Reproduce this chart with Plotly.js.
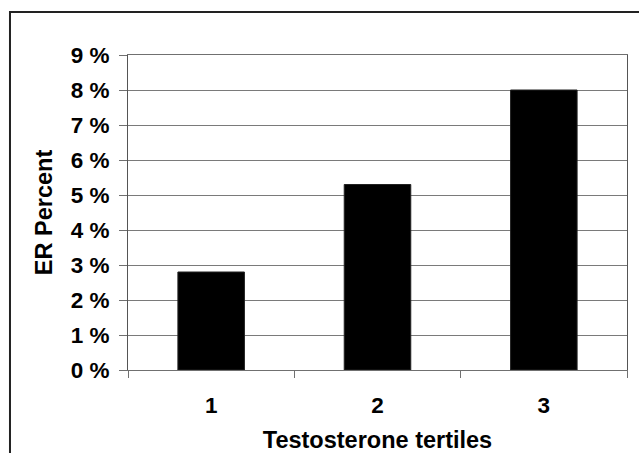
<!DOCTYPE html>
<html>
<head>
<meta charset="utf-8">
<script src="https://cdn.plot.ly/plotly-3.0.1.min.js"></script>
<style>html,body{margin:0;padding:0;background:#fff;}#chart{width:639px;height:453px;}</style>
</head>
<body>
<div id="chart"></div>
<script>
const categories = ['1', '2', '3'];
const erPercent = [2.8, 5.3, 8.0];
const yTickValues = [0, 1, 2, 3, 4, 5, 6, 7, 8, 9];
const yTickLabels = ['0 %', '1 %', '2 %', '3 %', '4 %', '5 %', '6 %', '7 %', '8 %', '9 %'];
const xTitle = 'Testosterone tertiles';
const yTitle = 'ER Percent';

const fontFamily = 'Liberation Sans, Arial, Helvetica, sans-serif';

const trace = {
  type: 'bar',
  x: categories,
  y: erPercent,
  width: 0.4,
  marker: {color: '#000000', line: {color: '#222222', width: 1}},
  hoverinfo: 'skip'
};

const layout = {
  width: 639,
  height: 453,
  margin: {l: 128, r: 12, t: 55, b: 83, pad: 0},
  paper_bgcolor: '#ffffff',
  plot_bgcolor: '#ffffff',
  showlegend: false,
  bargap: 0.6,
  xaxis: {
    type: 'category',
    categoryorder: 'array',
    categoryarray: categories,
    tickson: 'boundaries',
    ticks: 'outside',
    ticklen: 7,
    tickwidth: 1,
    tickcolor: '#707070',
    showgrid: false,
    showline: true,
    linecolor: '#707070',
    linewidth: 1,
    mirror: true,
    zeroline: false,
    ticklabelstandoff: 15,
    tickfont: {family: fontFamily, size: 22.5, color: '#000', weight: 'bold'},
    title: {text: xTitle, font: {family: fontFamily, size: 23.5, color: '#000', weight: 'bold'}, standoff: 21},
    fixedrange: true
  },
  yaxis: {
    range: [0, 9],
    tickmode: 'array',
    tickvals: yTickValues,
    ticktext: yTickLabels,
    ticks: 'outside',
    ticklen: 8,
    tickwidth: 1,
    tickcolor: '#707070',
    showgrid: true,
    gridcolor: '#7a7a7a',
    gridwidth: 1,
    showline: true,
    linecolor: '#555555',
    linewidth: 1,
    mirror: true,
    zeroline: false,
    ticklabelstandoff: 5,
    tickfont: {family: fontFamily, size: 22.5, color: '#000', weight: 'bold'},
    title: {text: yTitle, font: {family: fontFamily, size: 23.5, color: '#000', weight: 'bold'}, standoff: 11},
    fixedrange: true
  },
  shapes: [{
    type: 'rect',
    xref: 'paper', yref: 'paper',
    x0: -0.2365, x1: 1.04,
    y0: -0.29, y1: 1.1365,
    line: {color: '#222222', width: 2},
    fillcolor: 'rgba(0,0,0,0)',
    layer: 'above'
  }]
};

Plotly.newPlot('chart', [trace], layout, {staticPlot: true, displayModeBar: false});
</script>
</body>
</html>
